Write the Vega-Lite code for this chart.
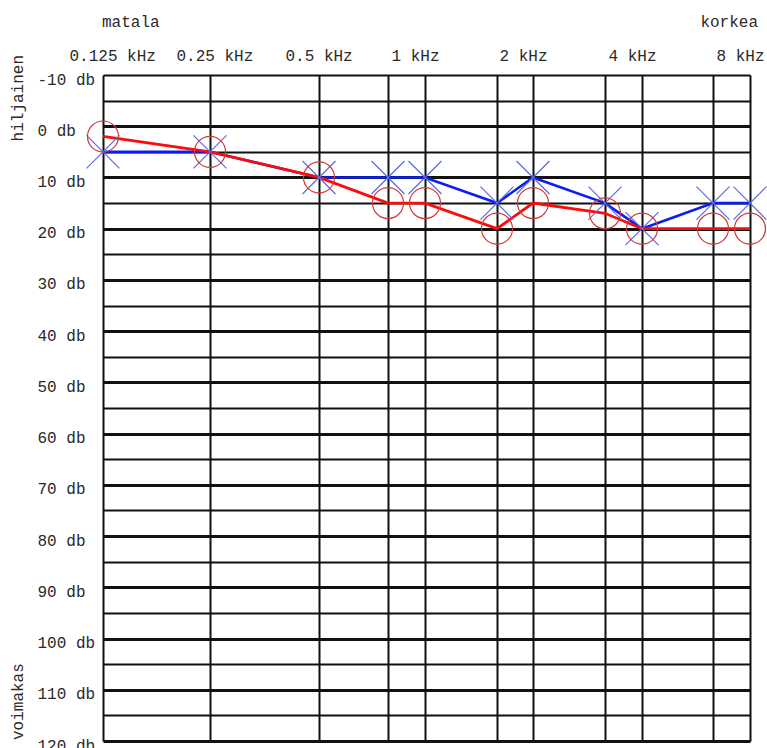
{
  "$schema": "https://vega.github.io/schema/vega-lite/v6.json",
  "width": 647,
  "height": 666,
  "autosize": {"type": "none"},
  "padding": {"left": 103, "top": 75, "right": 17, "bottom": 7},
  "background": "white",
  "config": {"view": {"stroke": null}, "font": "Liberation Mono"},
  "datasets": {
    "hearing": [
      {"ear": "oikea", "freq": 0.125, "db": 2},
      {"ear": "oikea", "freq": 0.25, "db": 5},
      {"ear": "oikea", "freq": 0.5, "db": 10},
      {"ear": "oikea", "freq": 0.75, "db": 15},
      {"ear": "oikea", "freq": 1, "db": 15},
      {"ear": "oikea", "freq": 1.5, "db": 20},
      {"ear": "oikea", "freq": 2, "db": 15},
      {"ear": "oikea", "freq": 3, "db": 17},
      {"ear": "oikea", "freq": 4, "db": 20},
      {"ear": "oikea", "freq": 6, "db": 20},
      {"ear": "oikea", "freq": 8, "db": 20},
      {"ear": "vasen", "freq": 0.125, "db": 5},
      {"ear": "vasen", "freq": 0.25, "db": 5},
      {"ear": "vasen", "freq": 0.5, "db": 10},
      {"ear": "vasen", "freq": 0.75, "db": 10},
      {"ear": "vasen", "freq": 1, "db": 10},
      {"ear": "vasen", "freq": 1.5, "db": 15},
      {"ear": "vasen", "freq": 2, "db": 10},
      {"ear": "vasen", "freq": 3, "db": 15},
      {"ear": "vasen", "freq": 4, "db": 20},
      {"ear": "vasen", "freq": 6, "db": 15},
      {"ear": "vasen", "freq": 8, "db": 15}
    ],
    "notes": [
      {"note": "matala", "freq": 0.125, "db": -10},
      {"note": "korkea", "freq": 8, "db": -10},
      {"note": "hiljainen", "freq": 0.125, "db": -10},
      {"note": "voimakas", "freq": 0.125, "db": 120}
    ]
  },
  "data": {"name": "hearing"},
  "encoding": {
    "x": {
      "field": "freq",
      "type": "quantitative",
      "scale": {
        "type": "linear",
        "domain": [0.125, 0.25, 0.5, 0.75, 1, 1.5, 2, 3, 4, 6, 8],
        "range": [0, 107, 216, 285, 322, 394, 430, 502, 539, 610, 647],
        "nice": false,
        "zero": false
      },
      "axis": {
        "orient": "top",
        "title": null,
        "values": [0.125, 0.25, 0.5, 0.75, 1, 1.5, 2, 3, 4, 6, 8],
        "grid": true,
        "gridColor": "#111111",
        "gridWidth": 2,
        "gridOpacity": 1,
        "domain": false,
        "ticks": false,
        "tickSize": 0,
        "labelPadding": 15,
        "labelAlign": "left",
        "labelOffset": -34,
        "labelBaseline": "alphabetic",
        "labelFont": "Liberation Mono",
        "labelFontSize": 16,
        "labelColor": "#2a2a2a",
        "labelOverlap": false,
        "labelFlush": false,
        "labelBound": false,
        "labelExpr": "(datum.value < 0.6 || datum.value == 1 || datum.value == 2 || datum.value == 4 || datum.value == 8) ? datum.value + ' kHz' : ''"
      }
    },
    "y": {
      "field": "db",
      "type": "quantitative",
      "scale": {"domain": [-10, 120], "reverse": true, "nice": false, "zero": false},
      "axis": {
        "title": null,
        "values": [-10, -5, 0, 5, 10, 15, 20, 25, 30, 35, 40, 45, 50, 55, 60, 65, 70, 75, 80, 85, 90, 95, 100, 105, 110, 115, 120],
        "grid": true,
        "gridColor": "#111111",
        "gridOpacity": 1,
        "gridWidth": {"condition": {"test": "datum.value % 10 === 0 && datum.value > -10", "value": 3.2}, "value": 1.8},
        "domain": false,
        "ticks": false,
        "tickSize": 0,
        "labelPadding": 66,
        "labelAlign": "left",
        "labelBaseline": "alphabetic",
        "labelOffset": 9,
        "labelFont": "Liberation Mono",
        "labelFontSize": 16,
        "labelColor": "#2a2a2a",
        "labelOverlap": false,
        "labelFlush": false,
        "labelBound": false,
        "labelExpr": "datum.value % 10 === 0 ? datum.value + ' db' : ''"
      }
    }
  },
  "layer": [
    {
      "transform": [{"filter": "datum.ear === 'vasen'"}],
      "mark": {"type": "line", "color": "#0a1ef0", "strokeWidth": 2.6}
    },
    {
      "transform": [{"filter": "datum.ear === 'oikea'"}],
      "mark": {"type": "line", "color": "#ff0a0a", "strokeWidth": 2.8}
    },
    {
      "transform": [{"filter": "datum.ear === 'vasen'"}],
      "mark": {"type": "point", "shape": "M-1,-1L1,1M-1,1L1,-1", "size": 1089, "filled": false, "stroke": "#5a6be6", "strokeWidth": 1.2, "opacity": 1}
    },
    {
      "transform": [{"filter": "datum.ear === 'oikea'"}],
      "mark": {"type": "point", "shape": "circle", "size": 961, "filled": false, "stroke": "#d23a3a", "strokeWidth": 1.2, "opacity": 1}
    },
    {
      "data": {"name": "notes"},
      "transform": [{"filter": "datum.note === 'matala'"}],
      "mark": {"type": "text", "align": "left", "baseline": "alphabetic", "dx": -1, "dy": -48, "fontSize": 16, "font": "Liberation Mono", "color": "#2a2a2a"},
      "encoding": {"text": {"field": "note"}}
    },
    {
      "data": {"name": "notes"},
      "transform": [{"filter": "datum.note === 'korkea'"}],
      "mark": {"type": "text", "align": "right", "baseline": "alphabetic", "dx": 8, "dy": -48, "fontSize": 16, "font": "Liberation Mono", "color": "#2a2a2a"},
      "encoding": {"text": {"field": "note"}}
    },
    {
      "data": {"name": "notes"},
      "transform": [{"filter": "datum.note === 'hiljainen'"}],
      "mark": {"type": "text", "align": "right", "baseline": "alphabetic", "angle": -90, "dx": 20, "dy": -80, "fontSize": 16, "font": "Liberation Mono", "color": "#2a2a2a"},
      "encoding": {"text": {"field": "note"}}
    },
    {
      "data": {"name": "notes"},
      "transform": [{"filter": "datum.note === 'voimakas'"}],
      "mark": {"type": "text", "align": "left", "baseline": "alphabetic", "angle": -90, "dx": 1, "dy": -80, "fontSize": 16, "font": "Liberation Mono", "color": "#2a2a2a"},
      "encoding": {"text": {"field": "note"}}
    }
  ]
}
